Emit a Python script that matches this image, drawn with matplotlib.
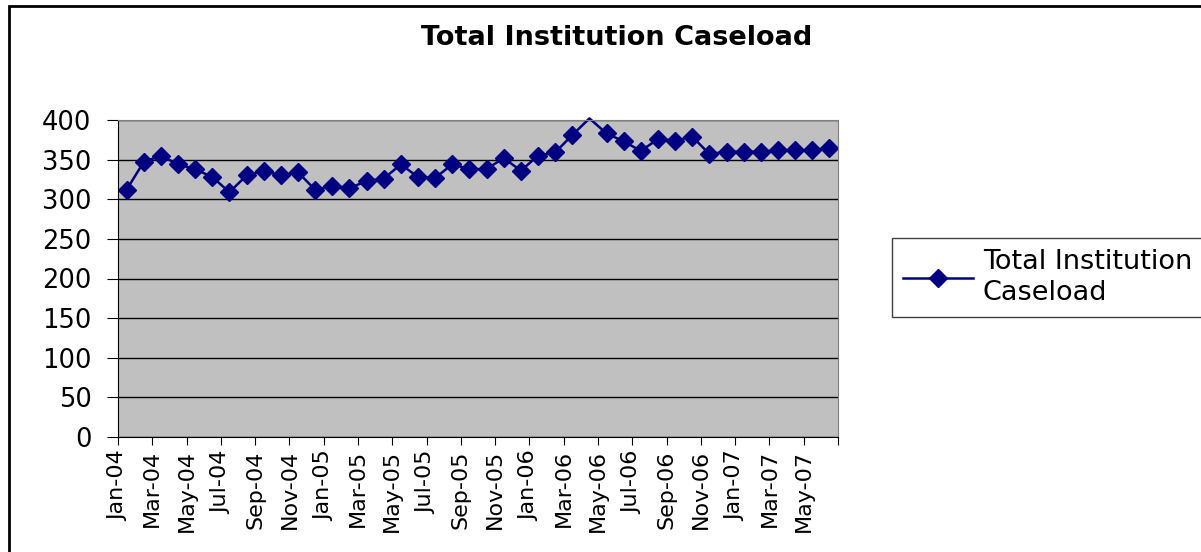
import numpy as np
import matplotlib
matplotlib.use('Agg')
import matplotlib.pyplot as plt
from matplotlib.patches import Rectangle

# Monthly caseload, Jan-04 .. Jun-07
months = ['Jan-04', 'Feb-04', 'Mar-04', 'Apr-04', 'May-04', 'Jun-04', 'Jul-04', 'Aug-04',
          'Sep-04', 'Oct-04', 'Nov-04', 'Dec-04', 'Jan-05', 'Feb-05', 'Mar-05', 'Apr-05',
          'May-05', 'Jun-05', 'Jul-05', 'Aug-05', 'Sep-05', 'Oct-05', 'Nov-05', 'Dec-05',
          'Jan-06', 'Feb-06', 'Mar-06', 'Apr-06', 'May-06', 'Jun-06', 'Jul-06', 'Aug-06',
          'Sep-06', 'Oct-06', 'Nov-06', 'Dec-06', 'Jan-07', 'Feb-07', 'Mar-07', 'Apr-07',
          'May-07', 'Jun-07']
caseload = [312, 347, 355, 344, 338, 328, 309, 330, 336, 330, 334, 312,
            317, 314, 323, 326, 344, 328, 327, 344, 338, 338, 352, 336,
            355, 359, 381, 402, 383, 373, 361, 376, 374, 379, 357, 360,
            360, 360, 362, 362, 362, 365]
tick_labels = months[::2] + ['']

plt.rcParams['font.family'] = ['DejaVu Sans']

fig = plt.figure(figsize=(12.01, 5.52), dpi=100)
ax = fig.add_axes([118 / 1201, 115 / 552, 720 / 1201, 317 / 552])
ax.set_facecolor('#c0c0c0')

x = np.arange(len(caseload))
y = np.array(caseload, dtype=float)
navy = '#000080'
ax.plot(x, y, color=navy, lw=1.8, clip_on=False)
# Excel hides markers that fall above the axis maximum
y_mark = np.ma.masked_where(y > 400, y)
ax.plot(x, y_mark, ls='none', marker='D', ms=9.5, color=navy)
line_handle = plt.Line2D([], [], color=navy, lw=1.8, marker='D', ms=9.5)

ax.set_xlim(-0.5, len(caseload) - 0.5)
ax.set_ylim(0, 400)
ax.set_yticks(range(0, 401, 50))
ax.yaxis.grid(True, color='black', lw=1)
ax.set_axisbelow(True)
ax.set_xticks(np.arange(-0.5, len(caseload), 2))
ax.set_xticklabels(tick_labels, rotation=90, fontsize=16)
ax.tick_params(axis='y', labelsize=18.5, length=8, direction='out', pad=11)
ax.tick_params(axis='x', length=6, direction='out')
for side in ['top', 'right']:
    ax.spines[side].set_color('#808080')
for side in ['left', 'bottom']:
    ax.spines[side].set_color('black')

fig.text(617 / 1201, 1 - 38 / 552, 'Total Institution Caseload',
         ha='center', va='center', fontsize=19.5, fontweight='bold')

leg = fig.legend([line_handle], ['Total Institution\nCaseload'], loc='upper left',
                 bbox_to_anchor=(892 / 1201, 1 - 238 / 552), fontsize=19.5,
                 fancybox=False, framealpha=1, edgecolor='#404040',
                 handlelength=2.6, handletextpad=0.35, borderpad=0.4,
                 labelspacing=0.2, borderaxespad=0)
leg.get_frame().set_linewidth(1)
for t in leg.get_texts():
    t.set_linespacing(1.25)

# outer chart border
fig.patches.append(Rectangle((9 / 1201, -0.1), 1.2, 1 - 6 / 552 + 0.1,
                             transform=fig.transFigure, fill=False,
                             edgecolor='black', lw=2))

fig.savefig('out.png', dpi=100)
